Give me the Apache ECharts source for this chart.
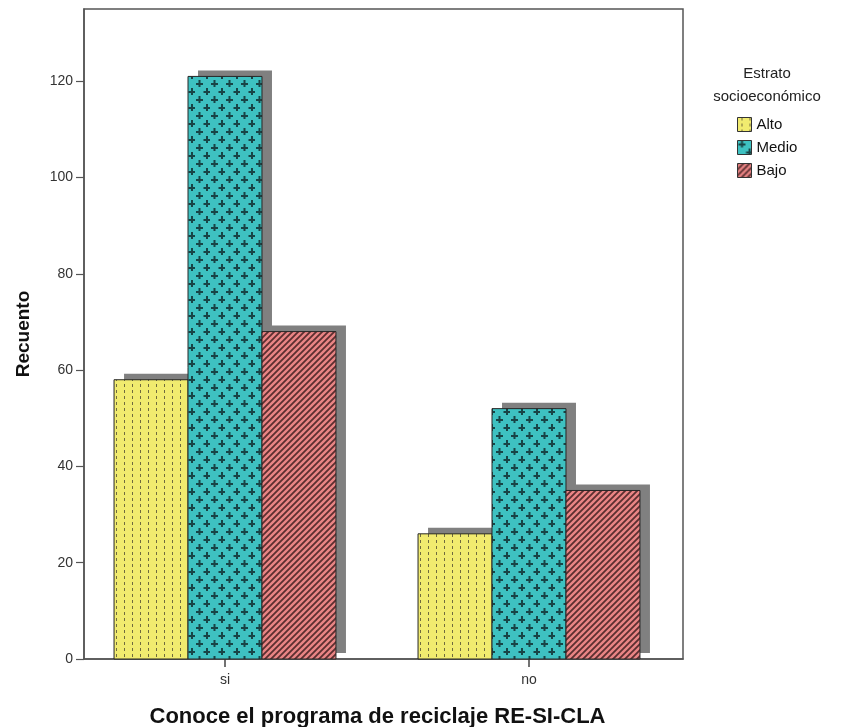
<!DOCTYPE html>
<html>
<head>
<meta charset="utf-8">
<script src="https://cdn.jsdelivr.net/npm/echarts@6/dist/echarts.min.js"></script>
<style>
  html, body { margin: 0; padding: 0; background: #fff; }
  #chart { width: 844px; height: 727px; }
</style>
</head>
<body>
<div id="chart"></div>
<script>
// Recycling-programme awareness by socio-economic stratum
const categories = ['si', 'no'];
const seriesNames = ['Alto', 'Medio', 'Bajo'];
const alto = [58, 26];
const medio = [121, 52];
const bajo = [68, 35];
const yTicks = [0, 20, 40, 60, 80, 100, 120];

const FONT = '"Liberation Sans", Arial, sans-serif';

// Small repeating tiles used as hatch fills
function tile(w, h, draw) {
  const c = document.createElement('canvas');
  c.width = w; c.height = h;
  draw(c.getContext('2d'), w, h);
  return { image: c, repeat: 'repeat' };
}

const dottedYellow = tile(8, 6, (g, w, h) => {
  g.fillStyle = '#f1eb6f'; g.fillRect(0, 0, w, h);
  g.fillStyle = '#6f6a3e'; g.fillRect(4, 0, 1, 3);
});

const crossTeal = tile(15, 16, (g, w, h) => {
  g.fillStyle = '#3ec1c1'; g.fillRect(0, 0, w, h);
  g.fillStyle = '#184446';
  const cross = (x, y) => {
    g.fillRect(x - 3, y - 1, 7, 2);
    g.fillRect(x - 0.5, y - 4, 2, 7);
  };
  cross(4, 4); cross(11.5, 12);
});

const stripeRed = tile(6, 6, (g, w, h) => {
  g.fillStyle = '#ea8585'; g.fillRect(0, 0, w, h);
  g.strokeStyle = '#5b2f30'; g.lineWidth = 1.8;
  g.beginPath();
  g.moveTo(-1, h + 1); g.lineTo(w + 1, -1);
  g.moveTo(-1, 1); g.lineTo(1, -1);
  g.moveTo(w - 1, h + 1); g.lineTo(w + 1, h - 1);
  g.stroke();
});

const fills = [dottedYellow, crossTeal, stripeRed];
const values = [alto, medio, bajo];

const YMAX = 135;
const GROUP_FRACTION = 0.73;   // share of each category band taken by the three bars
const SHADOW_DX = 10, SHADOW_DY = -6;

// Each stratum's bar with its offset drop shadow
function barRenderer(idx) {
  return function (params, api) {
    const cat = api.value(0);
    const val = api.value(1);
    const base = api.coord([cat, 0]);
    const top = api.coord([cat, val]);
    const band = api.size([1, 0])[0];
    const bw = band * GROUP_FRACTION / seriesNames.length;
    const x0 = base[0] - bw * seriesNames.length / 2 + idx * bw;
    const h = base[1] - top[1];
    return {
      type: 'group',
      children: [
        {
          type: 'rect',
          shape: { x: x0 + SHADOW_DX, y: top[1] + SHADOW_DY, width: bw, height: h },
          style: { fill: '#808080' }
        },
        {
          type: 'rect',
          shape: { x: x0, y: top[1], width: bw, height: h },
          style: { fill: fills[idx], stroke: '#262626', lineWidth: 1 }
        }
      ]
    };
  };
}

const chart = echarts.init(document.getElementById('chart'), null, { renderer: 'canvas' });

chart.setOption({
  animation: false,
  backgroundColor: '#fff',
  textStyle: { fontFamily: FONT },
  title: {
    text: 'Estrato\nsocioeconómico',
    left: 767, top: 62, padding: 0,
    textAlign: 'center',
    textStyle: { fontFamily: FONT, fontSize: 15, fontWeight: 'normal', color: '#222', lineHeight: 23 }
  },
  legend: {
    data: seriesNames,
    orient: 'vertical',
    left: 737, top: 117, padding: 0,
    icon: 'rect',
    itemWidth: 14, itemHeight: 14, itemGap: 8,
    textStyle: { fontFamily: FONT, fontSize: 15, color: '#111', lineHeight: 14 },
    itemStyle: { borderColor: '#333', borderWidth: 1 }
  },
  grid: [
    // frame with the count axis
    { left: 84, top: 9, width: 599, height: 650, show: true, borderColor: '#555', borderWidth: 1.5,
      backgroundColor: '#fff', outerBoundsMode: 'none', containLabel: false },
    // category band for the bars
    { left: 73, top: 9, width: 608, height: 650, outerBoundsMode: 'none', containLabel: false }
  ],
  xAxis: [
    {
      gridIndex: 0, type: 'category', data: categories,
      axisLine: { show: true, lineStyle: { color: '#555', width: 1.5 } },
      axisTick: { show: false }, axisLabel: { show: false },
      name: 'Conoce el programa de reciclaje RE-SI-CLA',
      nameLocation: 'middle', nameGap: 47,
      nameTextStyle: { fontFamily: FONT, fontSize: 22, fontWeight: 'bold', color: '#111', padding: [0, 12, 0, 0] }
    },
    {
      gridIndex: 1, type: 'category', data: categories,
      axisLine: { show: false },
      axisTick: { show: true, alignWithLabel: true, length: 8, lineStyle: { color: '#444', width: 1.5 } },
      axisLabel: { fontFamily: FONT, fontSize: 14, color: '#333', margin: 14 }
    }
  ],
  yAxis: [
    {
      gridIndex: 0, type: 'value', min: 0, max: YMAX, interval: 20,
      axisLine: { show: true, lineStyle: { color: '#555', width: 1.5 } },
      axisTick: { show: true, length: 8, customValues: yTicks, lineStyle: { color: '#555', width: 1.2 } },
      splitLine: { show: false },
      axisLabel: { fontFamily: FONT, fontSize: 14, color: '#333', margin: 11, customValues: yTicks },
      name: 'Recuento', nameLocation: 'middle', nameGap: 51, nameRotate: 90,
      nameTextStyle: { fontFamily: FONT, fontSize: 19, fontWeight: 'bold', color: '#111' }
    },
    {
      gridIndex: 1, type: 'value', min: 0, max: YMAX, interval: 20, show: false,
      splitLine: { show: false }
    }
  ],
  series: seriesNames.map((name, i) => ({
    name,
    type: 'custom',
    xAxisIndex: 1, yAxisIndex: 1,
    data: values[i].map((v, k) => [k, v]),
    encode: { x: 0, y: 1 },
    renderItem: barRenderer(i),
    itemStyle: { color: fills[i], borderColor: '#333', borderWidth: 1 },
    emphasis: { disabled: true }
  }))
});
</script>
</body>
</html>
